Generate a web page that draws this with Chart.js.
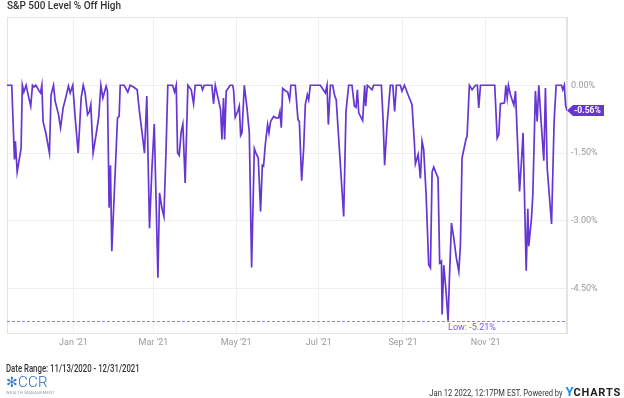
<!DOCTYPE html>
<html>
<head>
<meta charset="utf-8">
<script src="https://cdn.jsdelivr.net/npm/chart.js@4.4.1/dist/chart.umd.min.js"></script>
<style>
    body { margin: 0; background: #fff; font-family: Roboto, "Noto Sans", sans-serif; }
    .wrap { position: relative; width: 624px; height: 398px; overflow: hidden; }
    #offHighChart { position: absolute; left: 0; top: 0; }
    .title { position: absolute; left: 7px; top: 0px; font-size: 10px; font-weight: 500; color: #333; }
    .range { position: absolute; left: 6px; top: 363px; font-size: 10px; font-weight: 500; color: #333;
             white-space: nowrap; transform: scaleX(0.78); transform-origin: left center; }
    .logo { position: absolute; left: 6px; top: 374px; color: #2d6cb5; line-height: 1; white-space: nowrap; }
    .logo .mark { font-size: 14px; color: #3a78c0; }
    .logo .name { font-size: 15px; font-weight: 300; letter-spacing: 0.3px; }
    .logo .sub { display: block; font-size: 4px; color: #8a9bb0; letter-spacing: 0.3px; margin-top: 1px; }
    .stamp { position: absolute; right: 3px; top: 381px; white-space: nowrap; color: #333; }
    .stamp .txt { display: inline-block; font-size: 9.5px; transform: scaleX(0.8); transform-origin: right center; margin-right: -1px; }
    .stamp .y { color: #1e90e6; font-weight: 700; font-size: 13px; }
    .stamp .brand { font-weight: 700; font-size: 11px; letter-spacing: 0.8px; color: #222; }
</style>
</head>
<body>
<div class="wrap">
    <canvas id="offHighChart" width="624" height="398"></canvas>
    <div class="title">S&amp;P 500 Level % Off High</div>
    <div class="range">Date Range: 11/13/2020 - 12/31/2021</div>
    <div class="logo"><span class="mark">✻</span><span class="name">CCR</span><span class="sub">WEALTH MANAGEMENT</span></div>
    <div class="stamp"><span class="txt">Jan 12 2022, 12:17PM EST. Powered by</span> <span class="y">Y</span><span class="brand">CHARTS</span></div>
</div>
<script>
// days since 11/13/2020 for each turning point of the line
const dayIdx = [
    0, 3.5, 5.5, 6.2, 7.5, 10.4, 11.3, 12.4, 14.1, 15.8, 17.5, 18.8, 20.0, 21.2, 22.5, 23.7, 24.7, 25.7,
    26.6, 28.6, 31.3, 32.5, 34.3, 35.5, 38.0, 39.5, 41.4, 43.6, 45.3, 46.6, 48.5, 50.3, 52.5, 54.7, 56.2,
    57.6, 59.4, 60.8, 61.8, 63.5, 65.5, 67.7, 69.2, 70.7, 73.1, 74.1, 75.3, 76.3, 77.3, 81.5, 82.7, 83.5,
    86.4, 89.1, 90.8, 93.3, 96.0, 97.5, 99.5, 101.4, 103.1, 105.1, 106.8, 108.6, 111.3, 112.5, 114.2,
    115.7, 117.2, 118.6, 122.1, 123.6, 124.8, 125.8, 127.0, 128.5, 129.7, 131.4, 133.4, 135.9, 137.6,
    138.8, 143.2, 144.2, 145.5, 151.1, 152.3, 153.6, 154.8, 157.5, 158.5, 159.7, 160.5, 161.7, 164.6,
    166.4, 167.1, 168.3, 170.1, 171.3, 172.3, 173.3, 175.0, 177.0, 178.7, 180.4, 182.4, 183.6, 185.3,
    187.0, 188.3, 189.2, 190.5, 192.2, 193.2, 194.4, 196.6, 198.3, 200.3, 201.3, 202.3, 203.3, 205.2,
    207.0, 208.4, 209.4, 212.6, 214.6, 215.6, 217.3, 218.8, 220.0, 221.5, 222.5, 223.7, 231.1, 234.8,
    236.0, 237.0, 238.5, 240.2, 241.7, 242.8,
    248.3, 250.0, 252.0, 254.4, 256.2, 257.4, 258.4, 259.4, 262.3, 263.8, 264.5, 265.8, 269.2, 270.4,
    276.1, 277.3, 278.5, 280.3, 282.7, 284.5, 285.9, 287.2, 290.1, 291.3, 293.1, 295.8, 298.7, 300.5,
    301.2, 303.2, 304.9, 306.1, 307.3, 309.1, 311.0, 312.3, 313.5, 314.7, 316.4, 317.9, 319.1, 320.4,
    320.9, 322.1, 323.8, 325.3,
    326.3, 327.8, 329.5, 331.4, 333.2, 334.4, 335.6, 336.9, 338.6, 339.3, 341.0, 343.0, 345.5, 346.9,
    347.9, 349.2, 359.7, 361.5, 362.7, 363.9, 366.9, 367.9, 368.9, 369.8, 371.3, 373.8, 375.0, 378.0,
    379.4, 380.6, 382.9, 384.1, 384.8, 386.8, 387.8, 389.7, 391.0, 392.2, 393.9, 395.9, 397.1, 398.4,
    401.6, 403.5, 405.0, 408.9, 409.9, 411.0, 412.0, 413.0
];

// % off high at those points
const offHigh = [
    0, 0, -1.64, -1.24, -1.92, -1.39, 0, -0.15, 0, -0.24, -0.46, 0, -0.04, 0, -0.06, -0.13, -0.17, 0,
    -0.80, -1.05, -1.50, -0.21, 0, -0.35, -0.65, -0.94, -0.50, -0.24, -0.02, -0.17, 0, -0.72, -1.50, -0.28, 0,
    -0.17, -0.65, -0.58, -0.43, -1.50, -1.13, -0.69, 0, -0.28, -0.02, -0.13, -2.71, -1.77, -3.67, -0.72, -0.69, 0,
    0, -0.15, 0, -0.04, -0.10, -0.54, -1.02, -1.50, -0.24, -3.16, -1.90, -0.86, -4.26, -2.38, -2.71,
    -2.90, -1.53, 0, 0, -0.15, 0, -1.50, -1.55, -1.02, -0.86, -2.16, 0, -0.10, -0.41,
    0, 0, -0.10, 0, 0, -0.41, 0, -0.17, -0.54, -1.20, -0.28, -1.20, -0.13, 0,
    0, -0.10, -0.71, -0.58, -0.46, -1.11, -1.05, 0, -0.50, -1.05, -4.03, -1.40, -1.50, -1.61,
    -2.79, -1.77, -1.79, -1.31, -0.87, -1.05, -0.80, -0.69, -0.72, -0.72, -0.58, -0.94, -0.07, -0.12,
    -0.15, -0.32, 0, 0, -0.76, -0.80, -2.11, -1.39, -0.43, -0.21, -0.32, 0, 0, -0.17,
    0, -0.87, 0, 0, -0.24, -0.32,
    -2.90, -0.58, 0, 0, -0.46, -0.49, -0.10, -0.61, -0.78, 0, -0.46, 0, -0.10, 0,
    0, -0.72, -1.77, -0.87, 0, 0, -0.58, 0, 0, -0.13, 0, -0.21, -0.43, -1.31,
    -1.74, -1.53, -2.06, -1.24, -1.42, -2.42, -3.97, -4.04, -1.92, -1.81, -1.94, -2.05, -3.93, -3.89,
    -5.07, -3.98, -4.56, -5.21,
    -4.26, -3.05, -3.38, -3.82, -4.12, -3.53, -1.61, -1.42, -1.18, -1.13, 0, -0.10, 0, 0,
    -0.50, 0, 0, -1.17, -1.09, -0.41, -0.39, 0, -0.28, 0, -0.21, -0.44, -0.13, -2.35,
    -1.68, -1.05, -4.10, -2.73, -3.56, -2.94, -2.42, -0.13, -0.80, 0, -0.80, -1.67, -0.06, -1.83,
    -3.07, -0.80, 0, 0, -0.10, 0, -0.45, -0.56
];

// x ticks: first day of every other month, in days since 11/13/2020
const xTickDays = [49, 108, 169, 230, 292, 353];
const xTickLabels = ["Jan '21", "Mar '21", "May '21", "Jul '21", "Sep '21", "Nov '21"];
const yTickValues = [0, -1.5, -3, -4.5];

const lineColor = '#6536d2';
const gridColor = '#efefef';

const points = dayIdx.map((d, i) => ({ x: d, y: offHigh[i] }));
const lowIdx = offHigh.indexOf(Math.min(...offHigh));
const lastIdx = offHigh.length - 1;

// frame, low marker and last value tag
const extrasPlugin = {
    id: 'extras',
    beforeDatasetsDraw(chart) {
        const { ctx, chartArea: a, scales } = chart;
        ctx.save();
        ctx.strokeStyle = '#e3e3e3';
        ctx.lineWidth = 1;
        ctx.strokeRect(a.left + 0.5, a.top + 0.5, a.right - a.left - 1, a.bottom - a.top);

        const yLow = Math.round(scales.y.getPixelForValue(offHigh[lowIdx])) + 0.5;
        ctx.strokeStyle = '#9a7be8';
        ctx.setLineDash([3, 2]);
        ctx.beginPath();
        ctx.moveTo(a.left, yLow);
        ctx.lineTo(a.right, yLow);
        ctx.stroke();
        ctx.restore();
    },
    afterDatasetsDraw(chart) {
        const { ctx, chartArea: a, scales } = chart;
        ctx.save();
        const xLow = scales.x.getPixelForValue(dayIdx[lowIdx]);
        const yLow = scales.y.getPixelForValue(offHigh[lowIdx]);
        ctx.font = '9px Roboto';
        ctx.fillStyle = '#7a56dc';
        ctx.textAlign = 'left';
        ctx.textBaseline = 'middle';
        ctx.fillText('Low: ' + offHigh[lowIdx].toFixed(2) + '%', xLow, yLow + 7);

        // last value tag on the right axis
        const yLast = scales.y.getPixelForValue(offHigh[lastIdx]);
        const x0 = a.right;
        ctx.fillStyle = lineColor;
        ctx.beginPath();
        ctx.moveTo(x0, yLast);
        ctx.lineTo(x0 + 6, yLast - 5.5);
        ctx.lineTo(x0 + 37, yLast - 5.5);
        ctx.lineTo(x0 + 37, yLast + 5.5);
        ctx.lineTo(x0 + 6, yLast + 5.5);
        ctx.closePath();
        ctx.fill();
        ctx.fillStyle = '#fff';
        ctx.font = 'bold 8.5px Roboto';
        ctx.fillText(offHigh[lastIdx].toFixed(2) + '%', x0 + 7, yLast + 0.5);
        ctx.restore();
    }
};

const ctx = document.getElementById('offHighChart').getContext('2d');

new Chart(ctx, {
    type: 'line',
    data: {
        datasets: [{
            data: points,
            borderColor: lineColor,
            borderWidth: 1.7,
            pointRadius: 0,
            tension: 0,
            fill: false
        }]
    },
    options: {
        responsive: false,
        animation: false,
        layout: { padding: { top: 17, left: 7, right: 0, bottom: 0 } },
        plugins: {
            legend: { display: false },
            tooltip: { enabled: false }
        },
        scales: {
            x: {
                type: 'linear',
                min: 0,
                max: 413,
                afterBuildTicks: (axis) => { axis.ticks = xTickDays.map(v => ({ value: v })); },
                afterFit: (axis) => { axis.height = 65; },
                grid: { color: gridColor, drawTicks: false },
                border: { color: '#e3e3e3' },
                ticks: {
                    color: '#9a9a9a',
                    font: { family: 'Roboto', size: 9 },
                    padding: 4,
                    autoSkip: false,
                    maxRotation: 0,
                    callback: (v) => xTickLabels[xTickDays.indexOf(v)]
                }
            },
            y: {
                position: 'right',
                min: -5.48,
                max: 1.51,
                afterBuildTicks: (axis) => { axis.ticks = yTickValues.map(v => ({ value: v })); },
                afterFit: (axis) => { axis.width = 57; },
                grid: { color: gridColor, drawTicks: false },
                border: { color: '#e3e3e3' },
                ticks: {
                    color: '#9a9a9a',
                    font: { family: 'Roboto', size: 9 },
                    padding: 4,
                    callback: (v) => v.toFixed(2) + '%'
                }
            }
        }
    },
    plugins: [extrasPlugin]
});
</script>
</body>
</html>
